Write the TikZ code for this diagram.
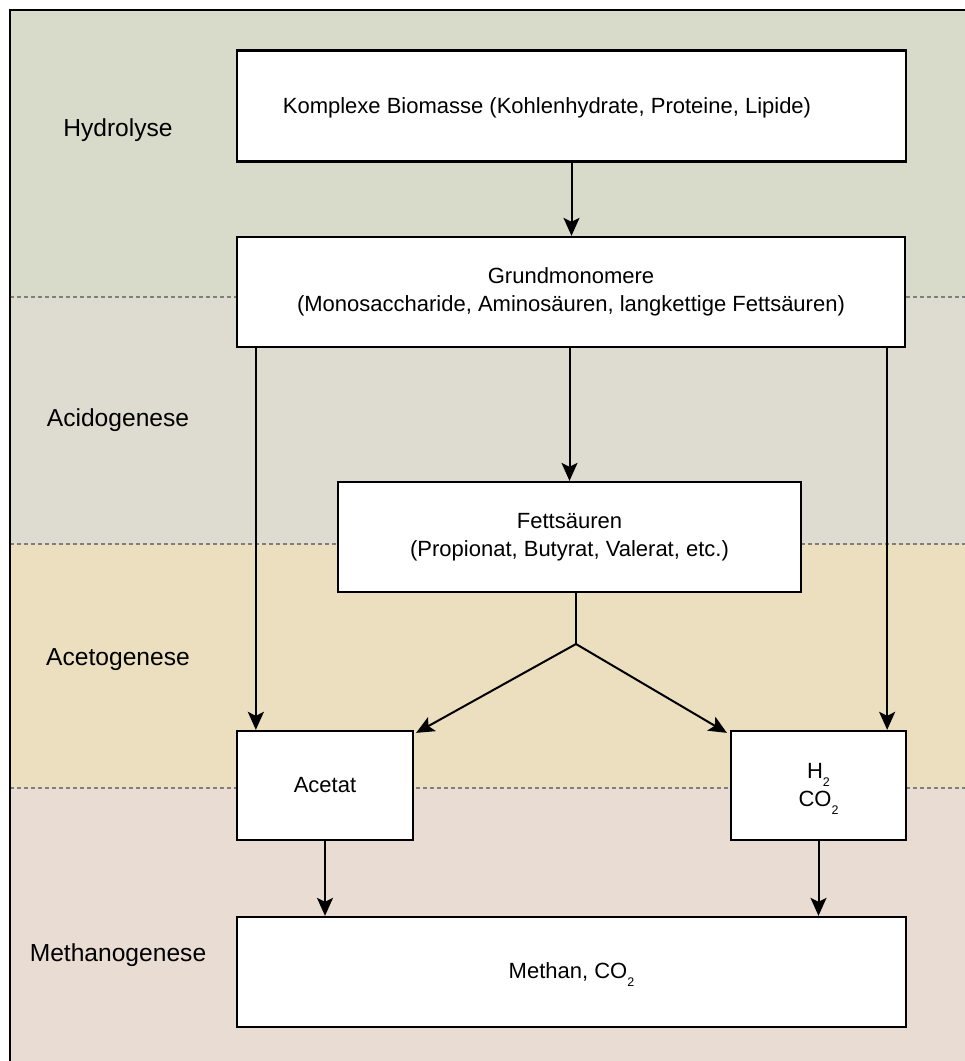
\documentclass[tikz,border=0pt]{standalone}
\usepackage{fontspec}
\setmainfont{Liberation Sans}
\usetikzlibrary{arrows.meta,calc}
\definecolor{bandA}{HTML}{D8DBC9}
\definecolor{bandB}{HTML}{DEDCD0}
\definecolor{bandC}{HTML}{EBDFBF}
\definecolor{bandD}{HTML}{E9DCD3}
\definecolor{sepgray}{HTML}{7F7F7F}
\newcommand{\boxfont}{\fontsize{22}{28}\selectfont}
\newcommand{\labfont}{\fontsize{24.6}{30}\selectfont}
\newcommand{\subtwo}{\raisebox{-7.5pt}[0pt][0pt]{\fontsize{12.5}{12.5}\selectfont 2}}
\tikzset{
  box/.style={draw=black, line width=2.3pt, fill=white, inner sep=0pt, align=center, font=\boxfont},
  txt/.style={inner sep=0pt, align=center, font=\boxfont},
  lab/.style={inner sep=0pt, font=\labfont},
  arr/.style={line width=2pt, -{Stealth[length=18pt,width=16pt,inset=4pt]}},
  plain/.style={line width=2pt},
  sepline/.style={draw=sepgray, line width=1.5pt, dash pattern=on 4pt off 3pt},
  frame/.style={draw=black, line width=2pt}
}
\begin{document}
\begin{tikzpicture}[x=1pt,y=-1pt]
\useasboundingbox (0,0) rectangle (965,1061);
% bands
\fill[bandA] (10,10) rectangle (970,297);
\fill[bandB] (10,297) rectangle (970,544);
\fill[bandC] (10,544) rectangle (970,788);
\fill[bandD] (10,788) rectangle (970,1070);
\draw[sepline] (10,297) -- (970,297);
\draw[sepline] (10,544) -- (970,544);
\draw[sepline] (10,788) -- (970,788);
\draw[frame] (10,1070) -- (10,10) -- (970,10);
% labels
\node[lab] (l1) at (118,130) {Hydrolyse};
\node[lab] (l2) at (118,420) {Acidogenese};
\node[lab] (l3) at (118,660) {Acetogenese};
\node[lab] (l4) at (118,955) {Methanogenese};
% boxes
\node[box, minimum width=669pt, minimum height=111pt] (bio) at (571.5,106) {};
\node[txt] (biot) at (547,108) {Komplexe Biomasse (Kohlenhydrate, Proteine, Lipide)};
\node[box, minimum width=668pt, minimum height=110pt] (grund) at (571,292)
  {Grundmonomere\\(Monosaccharide, Aminosäuren, langkettige Fettsäuren)};
\node[box, minimum width=463pt, minimum height=110pt] (fett) at (569.5,537)
  {Fettsäuren\\(Propionat, Butyrat, Valerat, etc.)};
\node[box, minimum width=176pt, minimum height=109pt] (acet) at (325,785.5) {Acetat};
\node[box, minimum width=175pt, minimum height=109pt] (h2) at (818.5,785.5)
  {H\subtwo\\CO\subtwo};
\node[box, minimum width=669pt, minimum height=110pt] (meth) at (571.5,972)
  {Methan, CO\subtwo};
% connectors
\draw[arr] (bio.south) -- (bio.south |- grund.north);
\draw[arr] (grund.south -| fett.north) -- (fett.north);
\draw[arr] ([xshift=20pt]acet.north west |- grund.south) -- ([xshift=20pt]acet.north west);
\draw[arr] ([xshift=-20pt]h2.north east |- grund.south) -- ([xshift=-20pt]h2.north east);
\coordinate (j) at (576,644);
\draw[plain] (fett.south -| j) -- (j);
\draw[arr] (j) -- ([shift={(2pt,-3pt)}]acet.north east);
\draw[arr] (j) -- ([shift={(-3pt,-3pt)}]h2.north west);
\draw[arr] (acet.south) -- (acet.south |- meth.north);
\draw[arr] (h2.south) -- (h2.south |- meth.north);
\end{tikzpicture}
\end{document}
